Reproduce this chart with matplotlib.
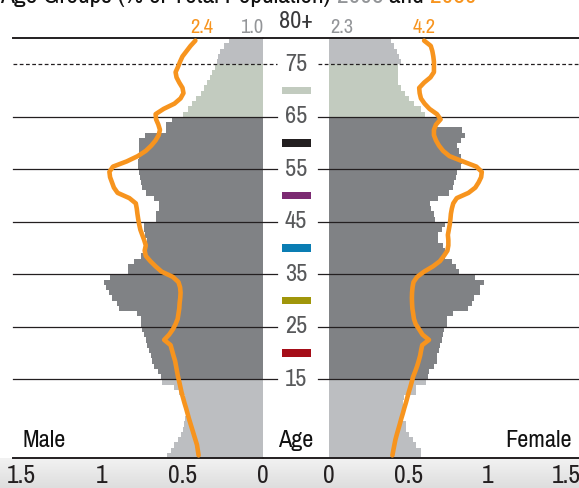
import matplotlib
matplotlib.use("Agg")
import matplotlib.pyplot as plt
import matplotlib.transforms as mtransforms
import numpy as np

plt.rcParams['font.family'] = ['Pragati Narrow', 'Liberation Sans', 'DejaVu Sans']

# ---------------- data ----------------
ages = np.arange(80)          # single-year ages 0..79 (80+ shown as text)
male_2005 = [0.595, 0.57, 0.55, 0.53, 0.51, 0.50, 0.49, 0.485, 0.48, 0.48,
             0.48, 0.485, 0.52, 0.555, 0.625, 0.636, 0.65, 0.677, 0.69, 0.698,
             0.708, 0.72, 0.728, 0.74, 0.749, 0.755, 0.76, 0.78, 0.897, 0.909,
             0.938, 0.955, 0.975, 0.99, 0.95, 0.84, 0.84, 0.80, 0.76, 0.72,
             0.72, 0.72, 0.73, 0.74, 0.74, 0.667, 0.667, 0.646, 0.646, 0.677,
             0.728, 0.749, 0.76, 0.763, 0.77, 0.776, 0.776, 0.77, 0.77, 0.77,
             0.77, 0.733, 0.605, 0.605, 0.564, 0.498, 0.465, 0.44, 0.414, 0.387,
             0.366, 0.348, 0.331, 0.317, 0.30, 0.286, 0.28, 0.265, 0.245, 0.214]
female_2005 = [0.58, 0.58, 0.548, 0.527, 0.506, 0.485, 0.485, 0.47, 0.47, 0.47,
               0.47, 0.475, 0.548, 0.548, 0.61, 0.625, 0.63, 0.66, 0.68, 0.68,
               0.694, 0.70, 0.71, 0.72, 0.725, 0.745, 0.746, 0.78, 0.88, 0.90,
               0.915, 0.95, 0.954, 0.975, 0.92, 0.82, 0.80, 0.776, 0.735, 0.735,
               0.72, 0.69, 0.69, 0.714, 0.73, 0.67, 0.66, 0.645, 0.64, 0.69,
               0.756, 0.78, 0.79, 0.80, 0.81, 0.83, 0.84, 0.83, 0.82, 0.81,
               0.83, 0.86, 0.84, 0.68, 0.704, 0.604, 0.58, 0.5375, 0.506, 0.48,
               0.454, 0.4375, 0.4375, 0.4375, 0.4375, 0.454, 0.444, 0.43, 0.41, 0.39]
male_2050 = [0.40, 0.405, 0.41, 0.42, 0.43, 0.44, 0.45, 0.46, 0.469, 0.478,
             0.488, 0.497, 0.506, 0.513, 0.52, 0.528, 0.534, 0.54, 0.546, 0.556,
             0.565, 0.574, 0.614, 0.583, 0.56, 0.543, 0.53, 0.525, 0.52, 0.518,
             0.514, 0.512, 0.515, 0.525, 0.56, 0.63, 0.667, 0.70, 0.728, 0.735,
             0.728, 0.738, 0.75, 0.762, 0.769, 0.775, 0.78, 0.784, 0.79, 0.83,
             0.903, 0.926, 0.938, 0.95, 0.954, 0.932, 0.846, 0.778, 0.728, 0.694,
             0.667, 0.648, 0.64, 0.65, 0.664, 0.667, 0.617, 0.55, 0.512, 0.494,
             0.50, 0.52, 0.537, 0.543, 0.528, 0.515, 0.50, 0.475, 0.45, 0.42]
female_2050 = [0.40, 0.406, 0.4125, 0.419, 0.428, 0.4375, 0.447, 0.456, 0.466, 0.475,
               0.485, 0.494, 0.503, 0.513, 0.522, 0.531, 0.544, 0.556, 0.566, 0.575,
               0.581, 0.588, 0.631, 0.59, 0.569, 0.547, 0.536, 0.531, 0.526, 0.524,
               0.523, 0.524, 0.527, 0.533, 0.556, 0.60, 0.656, 0.70, 0.725, 0.747,
               0.753, 0.753, 0.75, 0.756, 0.762, 0.766, 0.769, 0.775, 0.784, 0.806,
               0.88, 0.923, 0.944, 0.96, 0.964, 0.93, 0.844, 0.76, 0.72, 0.694,
               0.675, 0.662, 0.662, 0.675, 0.704, 0.681, 0.634, 0.603, 0.58, 0.572,
               0.569, 0.60, 0.64, 0.662, 0.662, 0.662, 0.658, 0.652, 0.642, 0.60]
top_labels = {"male_2050": "2.4", "male_2005": "1.0", "female_2005": "2.3", "female_2050": "4.2"}
age_ticks = [15, 25, 35, 45, 55, 65, 75]
legend_ages = [20, 30, 40, 50, 60, 70]
legend_colors = ["#a50d18", "#a0960a", "#0a7db3", "#7c2a72", "#231f20", "#c2cbbf"]
xticks_left = [1.5, 1, 0.5, 0]
xticks_right = [0, 0.5, 1, 1.5]
xtick_labels_left = ["1.5", "1", "0.5", "0"]
xtick_labels_right = ["0", "0.5", "1", "1.5"]

# ---------------- styling ----------------
DARK = "#808285"
LIGHT = "#bcbec1"
SAGE = "#c2cbbf"
ORANGE = "#f7941e"
GRAYTXT = "#939598"
AGETXT = "#58595b"

def bar_color(a):
    if a < 15 or a >= 75:
        return LIGHT
    if a >= 65:
        return SAGE
    return DARK

colors = [bar_color(a) for a in ages]

W, H = 579, 488
fig = plt.figure(figsize=(W / 100, H / 100), dpi=100)
fig.patch.set_facecolor("white")

band = fig.add_axes([0, 0, 1, 30 / H], zorder=-5)
grad = np.linspace(0, 1, 50).reshape(-1, 1)
band.imshow(grad, aspect="auto", cmap=matplotlib.colors.LinearSegmentedColormap.from_list(
    "g", ["#f2f2f2", "#dedede"]), extent=[0, 1, 0, 1], origin="upper")
band.set_axis_off()

y0, hgt = 30 / H, 420 / H
axL = fig.add_axes([13 / W, y0, 250 / W, hgt])
axR = fig.add_axes([329 / W, y0, 250 / W, hgt])
axM = fig.add_axes([263 / W, y0, 66 / W, hgt])

for ax in (axL, axR, axM):
    ax.set_ylim(0, 80)
    for s in ax.spines.values():
        s.set_visible(False)
    ax.set_yticks([])
    ax.patch.set_alpha(0)

axL.set_xlim(250 / 161, 0)
axR.set_xlim(0, 250 / 158.5)
axM.set_xlim(0, 1)
axM.set_xticks([])

axL.barh(ages + 0.5, male_2005, height=1.0, color=colors, linewidth=0, zorder=1)
axR.barh(ages + 0.5, female_2005, height=1.0, color=colors, linewidth=0, zorder=1)

axL.plot(male_2050, ages + 0.5, color=ORANGE, lw=3.3, solid_capstyle="round",
         solid_joinstyle="round", zorder=4)
axR.plot(female_2050, ages + 0.5, color=ORANGE, lw=3.3, solid_capstyle="round",
         solid_joinstyle="round", zorder=4)

trL = mtransforms.blended_transform_factory(axL.transAxes, axL.transData)
trR = mtransforms.blended_transform_factory(axR.transAxes, axR.transData)
for a in age_ticks:
    ls = (0, (3, 2)) if a == 75 else "-"
    axL.plot([0, 264 / 250], [a, a], transform=trL, color="#231f20", lw=0.9, ls=ls,
             clip_on=False, zorder=3)
    axR.plot([-11 / 250, 1], [a, a], transform=trR, color="#231f20", lw=0.9, ls=ls,
             clip_on=False, zorder=3)
for a in (0, 80):
    axL.plot([0, 1], [a, a], transform=trL, color="#231f20", lw=1.4, clip_on=False, zorder=3)
    axR.plot([-66 / 250, 1], [a, a], transform=trR, color="#231f20", lw=1.4,
             clip_on=False, zorder=3)

for a in age_ticks:
    axM.text(0.5, a, str(a), ha="center", va="center", fontsize=19, color=AGETXT)
axM.barh(legend_ages, 0.44, left=0.29, height=1.35, color=legend_colors, linewidth=0)
axM.text(0.5, 83.2, "80+", ha="center", va="center", fontsize=19, color="#3a3a3c",
         clip_on=False)
axM.text(0.5, 3.4, "Age", ha="center", va="center", fontsize=19, color="#111111")

axL.text(male_2050[-1] - 0.04, 82.0, top_labels["male_2050"], ha="center", va="center",
         fontsize=16, color=ORANGE, clip_on=False)
axL.text(0, 82.0, top_labels["male_2005"], ha="right", va="center", fontsize=16,
         color=GRAYTXT, clip_on=False)
axR.text(0.01, 82.0, top_labels["female_2005"], ha="left", va="center", fontsize=16,
         color=GRAYTXT, clip_on=False)
axR.text(female_2050[-1], 82.0, top_labels["female_2050"], ha="center", va="center",
         fontsize=16, color=ORANGE, clip_on=False)

axL.text(9 / 250, 3.4, "Male", transform=trL, ha="left", va="center", fontsize=19,
         color="#111111")
axR.text(243 / 250, 3.4, "Female", transform=trR, ha="right", va="center", fontsize=19,
         color="#111111")

axL.set_xticks(xticks_left, xtick_labels_left)
axR.set_xticks(xticks_right, xtick_labels_right)
for ax in (axL, axR):
    ax.tick_params(axis="x", length=0, pad=4, labelsize=20, labelcolor="#231f20")

renderer = fig.canvas.get_renderer()
pieces = [("Age Groups (% of Total Population) ", "#111111"), ("2005", GRAYTXT),
          (" and ", "#111111"), ("2050", ORANGE)]
xpix = 0
for txt, col in pieces:
    t = fig.text(xpix / W, 1 - 3 / H, txt, ha="left", va="baseline", fontsize=20, color=col)
    bb = t.get_window_extent(renderer)
    xpix += bb.width

fig.savefig("out.png", dpi=100)
